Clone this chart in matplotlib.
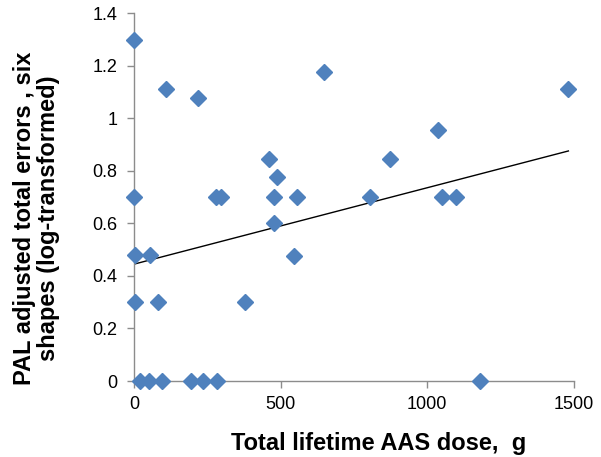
import numpy as np
import matplotlib.pyplot as plt

plt.rcParams["font.family"] = ["Liberation Sans", "DejaVu Sans"]

# data
dose_g = [0, 0, 5, 55, 3, 82, 110, 218, 647, 459, 488, 278, 298, 477, 556,
          478, 545, 377, 20, 50, 94, 193, 236, 283,
          806, 874, 1036, 1050, 1099, 1178, 1481]
errors = [1.30, 0.70, 0.48, 0.48, 0.30, 0.30, 1.113, 1.079, 1.176, 0.845, 0.778,
          0.70, 0.70, 0.70, 0.70, 0.602, 0.477, 0.30, 0, 0, 0, 0, 0, 0,
          0.70, 0.845, 0.954, 0.70, 0.70, 0, 1.113]

# linear trend line
trend_intercept = 0.445
trend_slope = 0.000291

xticks = [0, 500, 1000, 1500]
yticks = [0, 0.2, 0.4, 0.6, 0.8, 1.0, 1.2, 1.4]
ytick_labels = ["0", "0.2", "0.4", "0.6", "0.8", "1", "1.2", "1.4"]

fig = plt.figure(figsize=(6.01, 4.57), dpi=100)
ax = fig.add_axes([0.223, 0.1663, 0.732, 0.8045])

xs = np.array([0, max(dose_g)])
ax.plot(xs, trend_intercept + trend_slope * xs, color="black", lw=1.0, zorder=2)
ax.plot(dose_g, errors, linestyle="none", marker="D", markersize=8.5,
        color="#4F81BD", markeredgecolor="#4F81BD", clip_on=False, zorder=3)

ax.set_xlim(0, 1500)
ax.set_ylim(0, 1.4)
ax.set_xticks(xticks)
ax.set_yticks(yticks)
ax.set_yticklabels(ytick_labels)

for s in ["top", "right"]:
    ax.spines[s].set_visible(False)
for s in ["left", "bottom"]:
    ax.spines[s].set_color("#8c8c8c")
    ax.spines[s].set_linewidth(1.0)
ax.tick_params(axis="both", colors="#8c8c8c", length=5, width=1.0,
               labelcolor="black", labelsize=13)
ax.tick_params(axis="x", pad=6)
ax.tick_params(axis="y", pad=7)

ax.set_xlabel("Total lifetime AAS dose,  g", fontsize=17, fontweight="bold")
ax.set_ylabel("PAL adjusted total errors , six\nshapes (log-transformed)",
              fontsize=17, fontweight="bold", linespacing=1.05)
ax.xaxis.set_label_coords(0.555, -0.138)
ax.yaxis.set_label_coords(-0.168, 0.443)

fig.savefig("out.png", dpi=100)
